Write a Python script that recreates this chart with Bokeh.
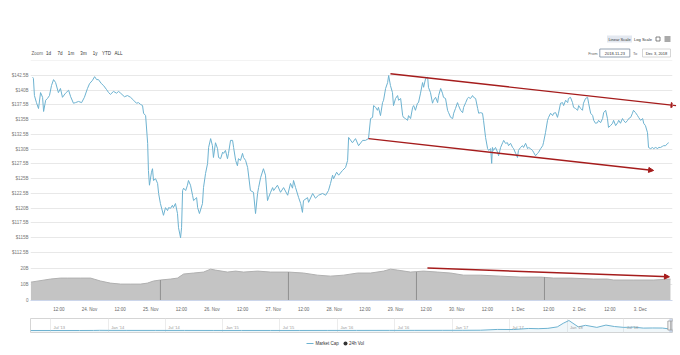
import math
import pandas as pd
from bokeh.plotting import figure
from bokeh.layouts import column
from bokeh.models import Range1d, FixedTicker, ColumnDataSource, Arrow, NormalHead, Label, Grid
from bokeh.embed import file_html
from bokeh.resources import INLINE
from bokeh.core.properties import value

# ---------------- data ----------------
START = pd.Timestamp("2018-11-23 00:00")   # hours below are counted from here

mc_hours = [1.7, 2.0, 2.4, 3.2, 4.0, 4.8, 5.6, 6.0, 6.8, 7.5, 8.3, 9.1, 9.9, 10.7, 11.8, 12.6, 13.4, 14.6, 15.8, 16.6,
            17.7, 18.5, 19.7, 20.9, 22.0, 23.2, 24.0, 25.2, 26.0, 26.8, 27.5, 28.7, 29.5, 30.7, 31.5, 32.2, 33.4, 34.6,
            35.4, 36.2, 37.7, 38.9, 40.1, 41.3, 42.4, 43.2, 44.0, 44.8, 45.2, 46.0, 46.8, 47.1, 47.5, 48.3, 48.7, 49.1,
            49.9, 50.7, 51.1, 51.8, 53.0, 53.8, 54.6, 55.0, 55.8, 56.5, 56.9, 57.7, 58.5, 58.9, 59.7, 60.1, 60.5, 60.9,
            61.7, 62.4, 62.8, 63.6, 64.4, 64.8, 66.0, 66.4, 67.1, 68.3, 68.7, 69.5, 70.3, 70.7, 71.5, 72.2, 72.6, 73.4,
            74.2, 74.6, 75.4, 76.2, 76.6, 77.3, 78.1, 78.5, 79.3, 80.1, 80.5, 81.3, 82.0, 82.4, 83.2, 84.0, 84.4, 85.2,
            86.0, 87.1, 88.3, 89.1, 89.9, 90.3, 91.1, 92.2, 93.0, 93.8, 94.2, 95.0, 95.8, 96.2, 97.7, 98.9, 100.1,
            101.7, 102.8, 103.6, 104.0, 104.8, 106.0, 106.8, 107.5, 107.9, 109.5, 109.9, 111.5, 112.6, 113.8, 115.4,
            116.6, 117.7, 118.5, 119.3, 119.7, 120.9, 121.7, 123.2, 124.4, 125.2, 125.6, 127.1, 128.3, 129.5, 131.1,
            132.2, 133.4, 134.2, 135.0, 135.4, 136.2, 136.9, 137.3, 138.1, 138.9, 139.3, 140.1, 140.9, 141.3, 142.0,
            142.8, 143.2, 144.0, 144.8, 145.2, 146.0, 146.8, 147.1, 147.9, 148.7, 149.1, 149.9, 150.7, 151.1, 151.8,
            152.6, 153.0, 153.8, 154.6, 155.0, 155.8, 156.6, 156.9, 157.7, 158.5, 158.9, 159.7, 160.5, 160.9, 161.7,
            162.4, 162.8, 163.6, 164.4, 164.8, 165.6, 166.4, 166.8, 167.5, 168.3, 168.7, 169.5, 170.3, 170.7, 171.5,
            172.2, 172.6, 173.4, 174.2, 174.6, 175.4, 176.2, 176.6, 177.3, 178.1, 178.5, 179.3, 180.1, 180.5, 181.3,
            181.7, 182.0, 182.4, 183.2, 184.0, 184.4, 185.2, 186.0, 186.4, 187.1, 187.9, 188.3, 189.1, 189.9, 190.3,
            191.1, 191.8, 192.2, 193.0, 193.8, 194.2, 195.0, 195.8, 196.2, 196.9, 197.7, 198.1, 198.9, 199.7, 200.1,
            200.9, 201.7, 202.0, 202.8, 203.6, 204.0, 204.8, 205.6, 206.0, 206.8, 207.5, 207.9, 208.7, 209.5, 209.9,
            210.7, 211.5, 211.8, 212.6, 213.4, 213.8, 214.6, 215.4, 215.8, 216.6, 217.3, 217.7, 218.5, 219.3, 219.7,
            220.5, 221.3, 221.7, 222.4, 223.2, 223.6, 224.4, 225.2, 225.6, 226.4, 227.1, 227.5, 228.3, 229.1, 229.5,
            230.3, 231.1, 231.5, 232.2, 233.0, 233.4, 234.2, 235.0, 235.4, 236.2, 236.9, 237.3, 238.1, 238.9, 239.3,
            240.1, 240.9, 241.3, 242.0, 242.8, 243.2, 244.0, 244.8, 245.2, 246.0, 246.8, 247.1, 247.9, 248.7, 249.1,
            249.9, 250.7, 251.1]
mc_values = [142.2, 142.0, 139.1, 137.9, 136.9, 139.6, 138.8, 136.4, 138.3, 138.6, 139.1, 140.8, 141.8, 141.3, 139.6,
             140.3, 138.8, 139.5, 140.0, 138.9, 137.8, 137.9, 138.1, 137.9, 138.8, 140.3, 141.1, 141.7, 142.3, 141.8,
             141.8, 141.1, 140.8, 140.1, 139.6, 139.3, 139.8, 139.5, 139.8, 139.5, 138.9, 139.1, 138.8, 138.3, 137.8,
             137.9, 137.6, 137.4, 136.1, 135.7, 131.0, 126.4, 123.9, 126.1, 126.7, 124.7, 125.0, 124.2, 122.5, 120.8,
             118.8, 120.1, 119.6, 120.1, 120.0, 120.5, 120.1, 120.8, 119.1, 116.7, 115.0, 116.7, 123.0, 123.4, 123.0,
             123.9, 124.7, 123.9, 122.2, 121.3, 121.8, 120.1, 119.1, 120.8, 123.5, 125.9, 127.6, 130.3, 131.8, 130.6,
             128.6, 131.1, 130.1, 128.6, 128.4, 129.5, 129.3, 129.8, 128.4, 129.3, 131.5, 131.5, 130.3, 128.1, 127.2,
             128.4, 128.1, 129.3, 128.6, 128.1, 126.9, 123.0, 122.7, 119.1, 122.5, 123.5, 125.2, 126.7, 125.6, 121.3,
             121.8, 122.7, 123.5, 123.0, 123.9, 122.7, 123.5, 122.2, 124.2, 123.4, 124.7, 123.5, 121.8, 120.8, 119.3,
             121.3, 121.8, 121.0, 122.5, 121.7, 122.2, 122.5, 122.2, 123.0, 124.2, 125.6, 125.0, 126.1, 125.6, 126.4,
             126.9, 128.1, 132.0, 131.1, 131.8, 130.6, 131.5, 131.5, 131.8, 135.2, 135.4, 137.4, 137.1, 136.6, 137.1,
             135.7, 137.9, 138.3, 140.3, 141.3, 142.5, 140.8, 139.6, 137.4, 138.6, 139.1, 138.3, 138.6, 135.7, 135.4,
             135.2, 134.9, 135.7, 135.2, 137.1, 137.4, 136.6, 137.8, 137.9, 139.5, 141.3, 140.5, 142.0, 142.2, 140.5,
             139.6, 137.8, 138.3, 138.8, 137.9, 139.1, 140.3, 139.5, 138.8, 138.6, 136.6, 136.2, 135.4, 135.2, 136.1,
             136.9, 137.9, 137.4, 136.6, 136.2, 137.1, 137.9, 138.6, 138.8, 138.6, 139.1, 138.8, 138.6, 136.9, 136.1,
             136.2, 136.1, 134.9, 132.0, 130.1, 129.8, 130.1, 127.6, 130.3, 129.8, 130.3, 129.5, 128.9, 130.3, 131.1,
             131.5, 131.0, 131.1, 130.6, 131.0, 130.3, 130.1, 129.3, 128.6, 129.8, 130.3, 130.6, 130.3, 131.0, 130.1,
             130.3, 130.1, 129.8, 129.5, 128.9, 129.3, 129.5, 130.1, 130.6, 131.1, 132.8, 134.9, 135.4, 136.1, 135.7,
             136.1, 136.2, 135.4, 136.1, 137.8, 137.9, 137.4, 138.3, 137.9, 138.6, 138.8, 137.9, 137.1, 136.9, 136.6,
             137.4, 136.9, 136.6, 137.8, 138.6, 138.8, 137.8, 136.1, 135.7, 134.9, 134.4, 134.5, 134.9, 134.5, 135.2,
             136.2, 136.6, 135.2, 133.7, 134.0, 134.4, 134.9, 134.0, 134.5, 134.9, 134.4, 135.2, 134.9, 134.5, 134.9,
             135.2, 135.4, 136.1, 136.6, 136.2, 135.7, 135.4, 134.9, 135.2, 134.4, 134.0, 132.8, 130.3, 130.1, 130.3,
             130.1, 130.3, 130.1, 130.3, 130.3, 130.5, 130.6, 130.6, 131.0, 131.1]

vol_hours = [1.0, 8.7, 12.6, 15.4, 20.5, 24.4, 28.3, 32.2, 36.2, 40.1, 44.0, 46.7, 49.1, 51.8, 55.8, 58.5, 60.9, 64.8,
             68.7, 71.5, 73.4, 78.1, 81.3, 84.4, 89.9, 95.0, 102.0, 107.9, 113.4, 118.5, 123.6, 129.1, 134.2, 139.3,
             142.0, 144.8, 149.9, 155.0, 160.5, 165.6, 170.7, 177.3, 185.2, 193.0, 200.9, 206.0, 212.6, 221.6, 227.1,
             229.5, 237.3, 245.2, 251.8]
vol_values = [11.3, 13.2, 13.8, 13.8, 13.8, 13.8, 12.0, 10.7, 10.1, 10.1, 10.1, 10.7, 12.0, 12.6, 13.2, 13.8, 16.3, 16.9,
              17.5, 19.3, 18.7, 17.5, 18.1, 17.5, 18.1, 17.5, 17.5, 16.9, 15.6, 15.0, 15.6, 16.9, 16.9, 18.1, 19.3,
              18.7, 17.5, 18.1, 17.5, 16.9, 15.6, 15.6, 15.0, 14.4, 14.4, 13.8, 13.8, 13.2, 13.2, 12.6, 12.6, 12.6, 13.2]
vol_divider_hours = [51.8, 102.0, 152.2, 202.4]
vol_divider_tops = [12.6, 17.5, 17.5, 14.4]

price_ticks = [112.5, 115, 117.5, 120, 122.5, 125, 127.5, 130, 132.5, 135, 137.5, 140, 142.5, 145]
price_tick_labels = ["$112.5B", "$115B", "$117.5B", "$120B", "$122.5B", "$125B", "$127.5B", "$130B",
                     "$132.5B", "$135B", "$137.5B", "$140B", "$142.5B", ""]
vol_ticks = [0, 10, 20]
vol_tick_labels = ["0", "10B", "20B"]

x_tick_hours = [12, 24, 36, 48, 60, 72, 84, 96, 108, 120, 132, 144, 156, 168, 180, 192, 204, 216, 228, 240]
x_tick_labels = ["12:00", "24. Nov", "12:00", "25. Nov", "12:00", "26. Nov", "12:00", "27. Nov", "12:00", "28. Nov",
                 "12:00", "29. Nov", "12:00", "30. Nov", "12:00", "1. Dec", "12:00", "2. Dec", "12:00", "3. Dec"]

# trend arrows drawn on the picture: (hours, value)
trend_upper = {"h": [142.0, 254.0], "v": [142.8, 137.4]}
trend_lower = {"h": [133.4, 245.2], "v": [131.8, 126.4]}
trend_volume = {"h": [156.5, 251.4], "v": [20.0, 14.6]}

nav_dates = ["2013-04-28", "2013-07-01", "2013-10-01", "2013-11-15", "2013-12-04", "2014-01-01", "2014-03-01",
             "2014-06-01", "2014-09-01", "2014-12-01", "2015-03-01", "2015-06-01", "2015-09-01", "2015-12-01",
             "2016-03-01", "2016-06-15", "2016-09-01", "2016-12-01", "2017-02-01", "2017-04-01", "2017-05-25",
             "2017-07-15", "2017-09-01", "2017-10-01", "2017-11-01", "2017-12-01", "2017-12-20", "2018-01-07",
             "2018-01-20", "2018-02-06", "2018-03-01", "2018-04-06", "2018-05-05", "2018-06-01", "2018-07-01",
             "2018-08-01", "2018-09-01", "2018-10-01", "2018-11-01", "2018-11-20", "2018-12-03"]
nav_values = [1.5, 1.1, 1.6, 5.0, 14.0, 10.5, 8.0, 8.0, 6.5, 4.7, 3.8, 3.7, 3.6, 6.8, 7.5, 11.0, 11.5, 14.0, 17.0,
              25.0, 90.0, 80.0, 170.0, 150.0, 180.0, 300.0, 600.0, 830.0, 600.0, 300.0, 430.0, 260.0, 450.0, 330.0,
              260.0, 280.0, 200.0, 210.0, 205.0, 140.0, 130.0]
nav_label_dates = ["2013-07-01", "2014-01-01", "2014-07-01", "2015-01-01", "2015-07-01", "2016-01-01",
                   "2016-07-01", "2017-01-01", "2017-07-01", "2018-01-01", "2018-07-01"]
nav_labels = ["Jul '13", "Jan '14", "Jul '14", "Jan '15", "Jul '15", "Jan '16", "Jul '16", "Jan '17", "Jul '17",
              "Jan '18", "Jul '18"]

# ---------------- helpers / styles ----------------
def ms(h):
    return (START + pd.Timedelta(hours=h)).value / 1e6

def dms(s):
    return pd.Timestamp(s).value / 1e6

FONT = "Liberation Sans"
W = 680
LINE_BLUE = "#6db2d0"
RED = "#a51c1c"
GRID = "#e8e8e8"
X_START_H, X_END_H = 0.86, 252.6
LEFT, RIGHT = 30, 8

def bare(fig):
    fig.outline_line_color = None
    fig.background_fill_color = "white"
    fig.border_fill_color = "white"
    return fig

def style_y(ax_list, ticks, labels):
    for ax in ax_list:
        ax.ticker = FixedTicker(ticks=ticks)
        ax.major_label_overrides = {t: lab for t, lab in zip(ticks, labels)}
        ax.axis_line_color = None
        ax.major_tick_line_color = None
        ax.minor_tick_line_color = None
        ax.major_tick_out = 0
        ax.major_tick_in = 0
        ax.minor_tick_out = 0
        ax.minor_tick_in = 0
        ax.axis_label_standoff = 0
        ax.major_label_standoff = 2
        ax.major_label_text_font = FONT
        ax.major_label_text_font_size = "4.5px"
        ax.major_label_text_color = "#777777"

def pixel_fig(height, y_top, y_bottom):
    # frames in a column are aligned, so this frame spans page x 30..672 exactly
    f = bare(figure(width=W, height=height, x_range=Range1d(LEFT, W - RIGHT), y_range=Range1d(y_bottom, y_top),
                    x_axis_location=None, y_axis_location=None,
                    min_border_left=LEFT, min_border_right=RIGHT, min_border_top=0, min_border_bottom=0,
                    output_backend="svg", toolbar_location=None))
    f.xgrid.visible = False
    f.ygrid.visible = False
    return f

# ---------------- header (range buttons, scale buttons, date inputs) ----------------
hdr = pixel_fig(60, 0, 60)
hdr.text(x=[31], y=[53], text=["Zoom"], text_font=value(FONT), text_font_size="4.5px",
         text_color="#666666", text_align="left", text_baseline="middle")
hdr.text(x=[48, 59.5, 70.5, 83, 94.7, 106, 118], y=[53] * 7, text=["1d", "7d", "1m", "3m", "1y", "YTD", "ALL"],
         text_font=value(FONT), text_font_size="4.5px", text_color="#333333", text_align="center",
         text_baseline="middle")
hdr.rect(x=[619], y=[38.5], width=25, height=7, fill_color="#e3e8f0", line_color=None)
hdr.text(x=[619, 642.5], y=[38.5, 38.5], text=["Linear Scale", "Log Scale"], text_font=value(FONT),
         text_font_size="4px", text_color="#333333", text_align="center", text_baseline="middle")
hdr.rect(x=[657.5], y=[38.5], width=4, height=4, fill_color=None, line_color="#666666", line_width=0.8)
hdr.segment(x0=[664] * 3, y0=[36.5, 38.5, 40.5], x1=[670] * 3, y1=[36.5, 38.5, 40.5],
            line_color="#555555", line_width=1)
hdr.text(x=[597], y=[52.5], text=["From"], text_font=value(FONT), text_font_size="4px",
         text_color="#666666", text_align="right", text_baseline="middle")
hdr.rect(x=[614.3], y=[52.5], width=30, height=8, fill_color="white", line_color="#7a8aa0", line_width=0.8)
hdr.text(x=[614.3], y=[52.5], text=["2018-11-23"], text_font=value(FONT), text_font_size="4px",
         text_color="#333333", text_align="center", text_baseline="middle")
hdr.text(x=[634.5], y=[52.5], text=["To"], text_font=value(FONT), text_font_size="4px",
         text_color="#666666", text_align="center", text_baseline="middle")
hdr.rect(x=[656], y=[52.5], width=28, height=8, fill_color="white", line_color="#cccccc", line_width=0.8)
hdr.text(x=[656], y=[52.5], text=["Dec 3, 2018"], text_font=value(FONT), text_font_size="4px",
         text_color="#333333", text_align="center", text_baseline="middle")

# ---------------- price pane ----------------
xr = Range1d(ms(X_START_H), ms(X_END_H))
price_src = ColumnDataSource(dict(t=[ms(h) for h in mc_hours], v=mc_values))
P_LO, P_HI = 111.99, 145.04

p = bare(figure(width=W, height=195, x_range=xr, y_range=Range1d(P_LO, P_HI), x_axis_type="datetime",
                x_axis_location=None, output_backend="svg", toolbar_location=None,
                min_border_left=LEFT, min_border_right=RIGHT, min_border_top=0, min_border_bottom=0))
style_y(p.yaxis, price_ticks, price_tick_labels)
p.ygrid.ticker = FixedTicker(ticks=price_ticks)
p.ygrid.grid_line_color = GRID
p.xgrid.visible = False
p.line(x="t", y="v", source=price_src, line_color=LINE_BLUE, line_width=1)

for tr in (trend_upper, trend_lower):
    p.add_layout(Arrow(end=NormalHead(size=5, fill_color=RED, line_color=RED),
                       x_start=ms(tr["h"][0]), y_start=tr["v"][0], x_end=ms(tr["h"][1]), y_end=tr["v"][1],
                       line_color=RED, line_width=1.4))

p.add_layout(Label(x=ms(X_START_H), y=(P_LO + P_HI) / 2, x_offset=-23, angle=math.pi / 2,
                   text="Market Cap", text_font=FONT, text_font_size="4.5px", text_color="#5b9ccc",
                   text_align="center", text_baseline="middle"))

# ---------------- volume pane ----------------
vol_src = ColumnDataSource(dict(t=[ms(h) for h in vol_hours], v=vol_values))
V_HI = 27.7
v = bare(figure(width=W, height=60, x_range=xr, y_range=Range1d(0, V_HI), x_axis_type="datetime",
                output_backend="svg", toolbar_location=None,
                min_border_left=LEFT, min_border_right=RIGHT, min_border_top=0, min_border_bottom=15))
v.varea(x="t", y1=0, y2="v", source=vol_src, fill_color="#c4c4c4")
v.line(x="t", y="v", source=vol_src, line_color="#b0b0b0", line_width=1)
v.segment(x0=[ms(h) for h in vol_divider_hours], y0=[0] * 4, x1=[ms(h) for h in vol_divider_hours],
          y1=vol_divider_tops, line_color="#8f8f8f", line_width=1)
style_y(v.yaxis, vol_ticks, vol_tick_labels)
v.ygrid.ticker = FixedTicker(ticks=vol_ticks)
v.ygrid.grid_line_color = GRID
v.xgrid.visible = False
x_ticks_ms = [ms(h) for h in x_tick_hours]
xa = v.xaxis[0]
xa.ticker = FixedTicker(ticks=x_ticks_ms)
xa.major_label_overrides = {t: lab for t, lab in zip(x_ticks_ms, x_tick_labels)}
xa.axis_line_color = "#ccd6eb"
xa.major_tick_line_color = None
xa.minor_tick_line_color = None
xa.major_tick_out = 0
xa.major_tick_in = 0
xa.minor_tick_out = 0
xa.minor_tick_in = 0
xa.axis_label_standoff = 0
xa.major_label_standoff = 6
xa.major_label_text_font = FONT
xa.major_label_text_font_size = "4.5px"
xa.major_label_text_color = "#666666"
v.add_layout(Arrow(end=NormalHead(size=5, fill_color=RED, line_color=RED),
                   x_start=ms(trend_volume["h"][0]), y_start=trend_volume["v"][0],
                   x_end=ms(trend_volume["h"][1]), y_end=trend_volume["v"][1],
                   line_color=RED, line_width=1.4))
v.add_layout(Label(x=ms(X_START_H), y=V_HI / 2, x_offset=-21, angle=math.pi / 2, text="24h Vol",
                   text_font=FONT, text_font_size="4.5px", text_color="#333333",
                   text_align="center", text_baseline="middle"))

# ---------------- navigator ----------------
NAV_LO, NAV_HI = -165.0, 996.0
nav_src = ColumnDataSource(dict(t=[dms(d) for d in nav_dates], v=nav_values))
n = figure(width=W, height=22, x_range=Range1d(dms("2013-04-28"), dms("2018-12-03")),
           y_range=Range1d(NAV_LO, NAV_HI), x_axis_location=None, y_axis_location=None,
           output_backend="svg", toolbar_location=None,
           min_border_left=LEFT, min_border_right=RIGHT, min_border_top=3, min_border_bottom=5)
n.outline_line_color = "#d5d5d5"
n.xgrid.visible = False
n.ygrid.visible = False
n.add_layout(Grid(dimension=0, ticker=FixedTicker(ticks=[dms(d) for d in nav_label_dates]),
                  grid_line_color="#ececec"))
n.varea(x="t", y1=NAV_LO, y2="v", source=nav_src, fill_color=LINE_BLUE, fill_alpha=0.1)
n.line(x="t", y="v", source=nav_src, line_color=LINE_BLUE, line_width=1)
n.text(x=[dms(d) for d in nav_label_dates], y=[NAV_LO + (NAV_HI - NAV_LO) * 0.36] * len(nav_labels),
       text=nav_labels, x_offset=3, text_font=value(FONT), text_font_size="4px", text_color="#999999",
       text_align="left", text_baseline="middle")
sel = [ms(0), ms(252)]
n.quad(left=[sel[0]], right=[sel[1]], bottom=[NAV_LO], top=[NAV_HI], fill_color="#6685c2",
       fill_alpha=0.3, line_color=None)
n.rect(x=sel, y=[(NAV_LO + NAV_HI) / 2] * 2, width=3, height=9, width_units="screen", height_units="screen",
       fill_color="#f2f2f2", line_color="#999999", line_width=0.8)

# ---------------- legend ----------------
leg = pixel_fig(18, 337, 355)
leg.segment(x0=[306], y0=[343], x1=[313], y1=[343], line_color=LINE_BLUE, line_width=1)
leg.scatter(x=[345], y=[343], size=4, marker="circle", fill_color="#333333", line_color=None)
leg.text(x=[315, 348.5], y=[343, 343], text=["Market Cap", "24h Vol"], text_font=value(FONT),
         text_font_size="4.5px", text_color="#333333", text_align="left", text_baseline="middle")

layout = column(hdr, p, v, n, leg, spacing=0)
open("out.html", "w").write(file_html(layout, INLINE))
